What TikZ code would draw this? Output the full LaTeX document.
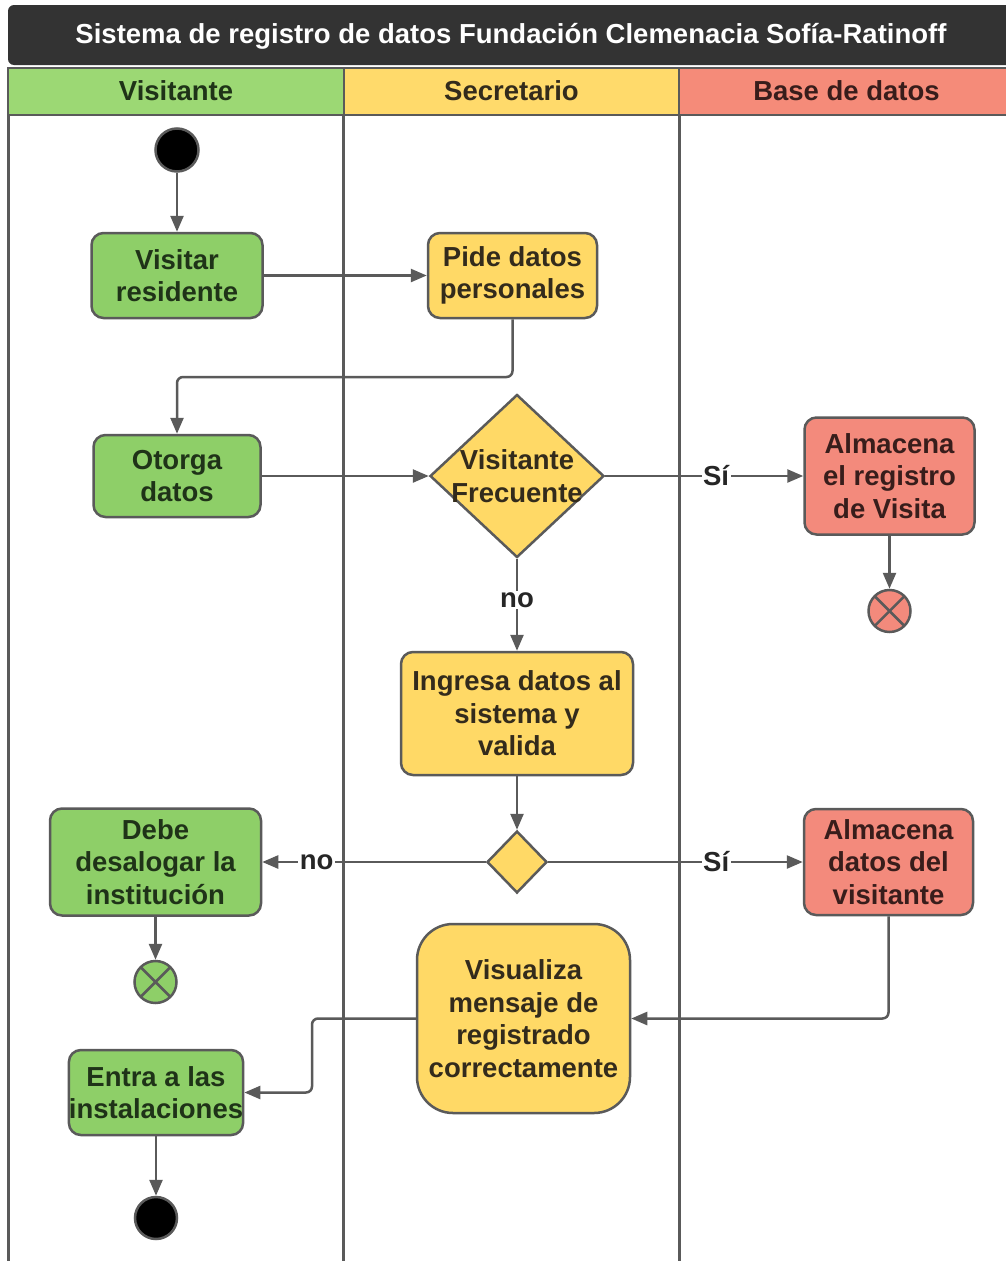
\documentclass[tikz,border=0pt]{standalone}
\usepackage{fontspec}
\setmainfont{Liberation Sans}
\usetikzlibrary{arrows.meta,shapes.geometric}

\definecolor{edge}{HTML}{5A5A5A}
\definecolor{titlefill}{HTML}{333333}
\definecolor{ghead}{HTML}{9CD874}
\definecolor{yhead}{HTML}{FFDA6B}
\definecolor{rhead}{HTML}{F58B79}
\definecolor{gfill}{HTML}{8ECF68}
\definecolor{yfill}{HTML}{FFD966}
\definecolor{rfill}{HTML}{F38A7C}
\definecolor{gtext}{HTML}{1F3318}
\definecolor{ytext}{HTML}{332B1C}
\definecolor{rtext}{HTML}{381D1B}

\begin{document}
\begin{tikzpicture}[x=1pt,y=-1pt,
  font=\fontsize{27.5}{32.5}\selectfont\bfseries,
  act/.style={draw=edge, line width=2.5pt, rounded corners=12pt, inner sep=0pt, align=center},
  gact/.style={act, fill=gfill, text=gtext},
  yact/.style={act, fill=yfill, text=ytext},
  ract/.style={act, fill=rfill, text=rtext},
  decision/.style={diamond, draw=edge, line width=2.5pt, fill=yfill, text=ytext, inner sep=0pt},
  initial/.style={circle, fill=black, draw=edge, line width=2.5pt, minimum size=43pt, inner sep=0pt},
  final/.style={circle, draw=edge, line width=2.5pt, minimum size=42pt, inner sep=0pt,
    path picture={\draw[edge, line width=2.5pt]
      (path picture bounding box.north west) -- (path picture bounding box.south east)
      (path picture bounding box.north east) -- (path picture bounding box.south west);}},
  flow/.style={draw=edge, line width=2.5pt, -{Triangle[length=16pt,width=13pt]}},
  lbl/.style={fill=white, inner sep=1.5pt, text=black!85},
  lane/.style={draw=edge, line width=3pt},
  head/.style={draw=edge, line width=2pt}
]
\clip (0,0) rectangle (1006,1261);
\fill[white] (0,0) rectangle (1006,1261);

% title bar
\fill[titlefill, rounded corners=6pt] (8,5) rectangle (1030,65);
\node[text=white] (title) at (511,36) {Sistema de registro de datos Fundación Clemenacia Sofía-Ratinoff};

% lane headers
\draw[head, fill=ghead] (8,68) rectangle (343.5,115);
\draw[head, fill=yhead] (343.5,68) rectangle (679,115);
\draw[head, fill=rhead] (679,68) rectangle (1030,115);
\node[text=gtext] (hvis) at (176,91) {Visitante};
\node[text=ytext] (hsec) at (511.5,91) {Secretario};
\node[text=rtext] (hbase) at (846.5,91) {Base de datos};

% lane separators
\draw[lane] (8,115) -- (8,1261);
\draw[lane] (343.5,115) -- (343.5,1261);
\draw[lane] (679,115) -- (679,1261);

% activities
\node[initial] (start) at (177,150) {};
\node[gact, minimum width=171pt, minimum height=85pt] (visitar) at (177,275.5) {Visitar\\residente};
\node[yact, minimum width=169pt, minimum height=85pt] (pide) at (512.5,275.5) {Pide datos\\personales};
\node[gact, minimum width=167pt, minimum height=82pt] (otorga) at (177,476) {Otorga\\datos};
\node[decision, minimum width=174pt, minimum height=163pt,
      label={[text=ytext, align=center]center:Visitante\\Frecuente}] (frec) at (517,476) {};
\node[ract, minimum width=170pt, minimum height=117pt] (almreg) at (889.5,476) {Almacena\\el registro\\de Visita};
\node[final, fill=rfill] (finreg) at (889.5,611) {};
\node[yact, minimum width=232pt, minimum height=123pt] (ingresa) at (517,713.5) {Ingresa datos al\\sistema y\\valida};
\node[decision, minimum width=60pt, minimum height=62pt] (valida) at (517,862) {};
\node[gact, minimum width=211pt, minimum height=107pt] (debe) at (155.5,862) {Debe\\desalogar la\\institución};
\node[final, fill=gfill] (findebe) at (155.5,982) {};
\node[ract, minimum width=169pt, minimum height=106pt] (almdat) at (888.5,862) {Almacena\\datos del\\visitante};
\node[yact, rounded corners=36pt, minimum width=213pt, minimum height=189pt] (visual) at (523.5,1018.5) {Visualiza\\mensaje de\\registrado\\correctamente};
\node[gact, minimum width=170pt, minimum height=85pt] (entra) at (156,1092.5) {Entra a las\\instalaciones};
\node[initial, minimum size=42pt] (fin) at (156,1218) {};

% control flow
\draw[flow] (start) -- (visitar);
\draw[flow] (visitar) -- (pide);
\draw[flow, rounded corners=6pt] (pide.south) -- (512.5,377) -| (otorga.north);
\draw[flow] (otorga) -- (frec);
\draw[flow] (frec.east) -- node[lbl, pos=0.56] {Sí} (almreg.west);
\draw[flow] (almreg) -- (finreg);
\draw[flow] (frec.south) -- node[lbl, pos=0.45] {no} (ingresa.north);
\draw[flow] (ingresa) -- (valida);
\draw[flow] (valida.west) -- node[lbl, pos=0.757] {no} (debe.east);
\draw[flow] (valida.east) -- node[lbl, pos=0.66] {Sí} (almdat.west);
\draw[flow] (debe) -- (findebe);
\draw[flow, rounded corners=6pt] (almdat.south) |- (visual.east);
\draw[flow, rounded corners=6pt] (visual.west) -- (312,1018.5) |- (entra.east);
\draw[flow] (entra) -- (fin);
\end{tikzpicture}
\end{document}
